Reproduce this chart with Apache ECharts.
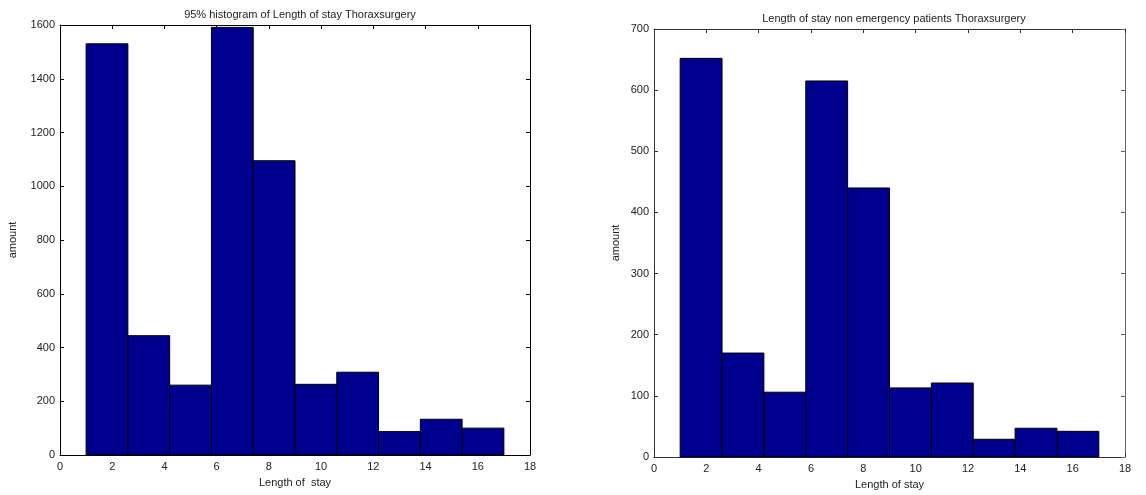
<!DOCTYPE html>
<html>
<head>
<meta charset="utf-8">
<script src="https://cdn.jsdelivr.net/npm/echarts@6/dist/echarts.min.js"></script>
<style>html,body{margin:0;padding:0;background:#fff;}#c{width:1146px;height:495px;}</style>
</head>
<body>
<div id="c"></div>
<script>
// Bin edges (Length of stay)
const binEdges = [1, 2.6, 4.2, 5.8, 7.4, 9.0, 10.6, 12.2, 13.8, 15.4, 17];
// Left: 95% histogram counts
const allCounts = [1530, 444, 260, 1591, 1095, 263, 308, 87, 133, 100];
// Right: non emergency patients counts
const nonEmergencyCounts = [652, 170, 106, 615, 440, 113, 121, 29, 47, 42];
const xTicks = [0, 2, 4, 6, 8, 10, 12, 14, 16, 18];

function toData(counts) {
  return counts.map((v, i) => [binEdges[i], binEdges[i + 1], v]);
}

function renderBar(params, api) {
  const p0 = api.coord([api.value(0), api.value(2)]);
  const p1 = api.coord([api.value(1), 0]);
  return {
    type: 'rect',
    shape: { x: p0[0], y: p0[1], width: p1[0] - p0[0], height: p1[1] - p0[1] },
    style: { fill: '#00008F', stroke: '#000', lineWidth: 1 }
  };
}

const FONT = 'Liberation Sans, Arial, sans-serif';
const lab = { color: '#222', fontSize: 11, fontFamily: FONT, formatter: v => String(v) };

function xAx(grid, pos, showLabel, name, lineColor) {
  return {
    type: 'value', gridIndex: grid, position: pos, min: 0, max: 18, interval: 2,
    axisLine: { show: true, onZero: false, lineStyle: { color: lineColor, width: 1 } },
    axisTick: { show: true, inside: true, length: 4, lineStyle: { color: lineColor } },
    axisLabel: Object.assign({ show: showLabel, margin: 6 }, lab),
    splitLine: { show: false },
    name: name || '', nameLocation: 'middle', nameGap: 22,
    nameTextStyle: { color: '#222', fontSize: 11, fontFamily: FONT }
  };
}
function yAx(grid, pos, showLabel, max, interval, name, gap, lineColor) {
  return {
    type: 'value', gridIndex: grid, position: pos, min: 0, max: max, interval: interval,
    axisLine: { show: true, onZero: false, lineStyle: { color: lineColor, width: 1 } },
    axisTick: { show: true, inside: true, length: 4, lineStyle: { color: lineColor } },
    axisLabel: Object.assign({ show: showLabel, margin: 5 }, lab),
    splitLine: { show: false },
    name: name || '', nameLocation: 'middle', nameGap: gap || 0, nameRotate: 90,
    nameTextStyle: { color: '#222', fontSize: 11, fontFamily: FONT }
  };
}

const chart = echarts.init(document.getElementById('c'), null, { renderer: 'canvas' });
chart.setOption({
  animation: false,
  backgroundColor: '#fff',
  title: [
    { text: '95% histogram of Length of stay Thoraxsurgery', left: 295, textAlign: 'center', top: 4,
      textStyle: { fontSize: 11, fontWeight: 'normal', color: '#222', fontFamily: FONT } },
    { text: 'Length of stay non emergency patients Thoraxsurgery', left: 889, textAlign: 'center', top: 8,
      textStyle: { fontSize: 11, fontWeight: 'normal', color: '#222', fontFamily: FONT } }
  ],
  grid: [
    { left: 60, right: 616, top: 25, bottom: 40, show: false },
    { left: 654, right: 21, top: 29, bottom: 37, show: false }
  ],
  xAxis: [
    xAx(0, 'bottom', true, 'Length of  stay', '#000'),
    xAx(0, 'top', false, '', '#000'),
    xAx(1, 'bottom', true, 'Length of stay', '#333'),
    xAx(1, 'top', false, '', '#333')
  ],
  yAxis: [
    yAx(0, 'left', true, 1600, 200, 'amount', 42, '#000'),
    yAx(0, 'right', false, 1600, 200, '', 0, '#000'),
    yAx(1, 'left', true, 700, 100, 'amount', 33, '#333'),
    yAx(1, 'right', false, 700, 100, '', 0, '#666')
  ],
  series: [
    { type: 'custom', xAxisIndex: 0, yAxisIndex: 0, renderItem: renderBar,
      encode: { x: [0, 1], y: 2 }, data: toData(allCounts) },
    { type: 'custom', xAxisIndex: 2, yAxisIndex: 2, renderItem: renderBar,
      encode: { x: [0, 1], y: 2 }, data: toData(nonEmergencyCounts) }
  ]
});
</script>
</body>
</html>
